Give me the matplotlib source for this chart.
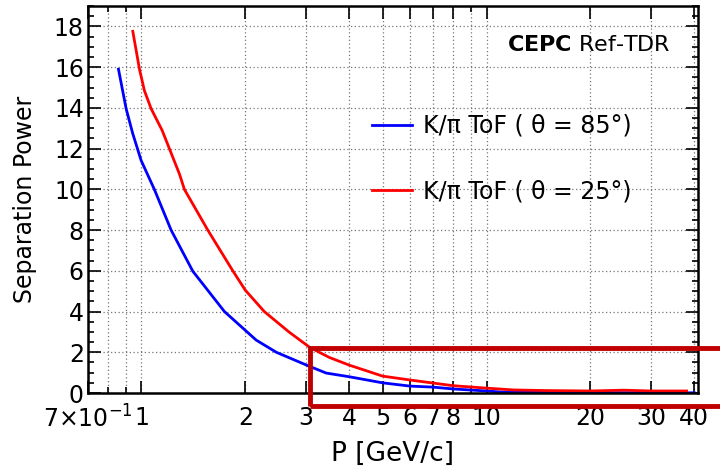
import matplotlib
matplotlib.use("Agg")
import matplotlib.pyplot as plt
from matplotlib.ticker import FixedLocator, FixedFormatter, MultipleLocator
from matplotlib.patches import Rectangle

plt.rcParams['font.family'] = ['DejaVu Sans']

# theta = 85 deg
blue_p = [0.858, 0.903, 0.944, 0.998, 1.09, 1.219, 1.409, 1.74, 2.15, 2.46, 3.01, 3.43, 4.0, 5.0, 6.0, 7.0, 8.0, 10.0, 11.0, 15.0, 20.0, 30.0, 40.0]
blue_s = [15.9, 13.96, 12.73, 11.42, 10.0, 8.0, 5.98, 4.0, 2.6, 2.0, 1.37, 0.98, 0.8, 0.5, 0.34, 0.29, 0.2, 0.1, 0.05, 0.03, 0.02, 0.01, 0.01]

# theta = 25 deg
red_p = [0.944, 0.987, 1.02, 1.067, 1.148, 1.205, 1.289, 1.332, 1.557, 1.84, 2.0, 2.27, 2.68, 3.07, 3.5, 4.0, 5.0, 6.0, 7.0, 8.0, 10.0, 12.0, 15.0, 20.0, 25.0, 30.0, 38.0]
red_s = [17.76, 15.9, 14.85, 13.96, 12.9, 12.0, 10.75, 10.0, 8.0, 6.0, 5.05, 4.0, 2.99, 2.25, 1.75, 1.37, 0.83, 0.64, 0.49, 0.36, 0.24, 0.15, 0.12, 0.1, 0.14, 0.1, 0.1]

xmajor = [0.7, 1, 2, 3, 4, 5, 6, 7, 8, 10, 20, 30, 40]
xlabels = [r'7$\times$10$^{-1}$', '1', '2', '3', '4', '5', '6', '7', '8', '10', '20', '30', '40']
xminor = [0.8, 0.9, 9]

fig = plt.figure(figsize=(7.2, 4.69), dpi=100)
ax = fig.add_axes([0.1222, 0.162, 0.8472, 0.825])

ax.plot(blue_p, blue_s, color='#0000ff', lw=2, label='K/π ToF ( θ = 85°)')
ax.plot(red_p, red_s, color='#ff0000', lw=2, label='K/π ToF ( θ = 25°)')

ax.set_xscale('log')
ax.set_xlim(0.7, 41)
ax.set_ylim(0, 19)
ax.xaxis.set_major_locator(FixedLocator(xmajor))
ax.xaxis.set_major_formatter(FixedFormatter(xlabels))
ax.xaxis.set_minor_locator(FixedLocator(xminor))
ax.xaxis.set_minor_formatter(FixedFormatter([''] * len(xminor)))
ax.yaxis.set_major_locator(MultipleLocator(2))
ax.yaxis.set_minor_locator(MultipleLocator(0.5))

ax.grid(True, which='both', axis='x', color='#777777', linestyle=(0, (1, 2)), lw=0.9)
ax.grid(True, which='major', axis='y', color='#777777', linestyle=(0, (1, 2)), lw=0.9)

ax.tick_params(which='both', direction='in', top=True, right=True, labelsize=17)
ax.tick_params(axis='x', pad=9)
ax.tick_params(axis='y', pad=3)
ax.tick_params(which='major', length=9, width=1.2)
ax.tick_params(which='minor', length=4.5, width=1.2)
for s in ax.spines.values():
    s.set_linewidth(1.8)

ax.set_xlabel('P [GeV/c]', fontsize=19, labelpad=6)
ax.set_ylabel('Separation Power', fontsize=17, labelpad=12)

ax.legend(loc='upper left', bbox_to_anchor=(0.5167, 0.757), bbox_transform=fig.transFigure,
          frameon=False, fontsize=17, borderpad=0, borderaxespad=0,
          handlelength=1.7, handletextpad=0.47, labelspacing=1.76)

ax.text(0.955, 0.9, r'$\mathbf{CEPC}$ Ref-TDR', transform=ax.transAxes, ha='right', va='center', fontsize=16)

# highlight box
fig.patches.append(Rectangle((0.4306, 0.1343), 0.62, 0.1237, transform=fig.transFigure,
                             fill=False, edgecolor='#c00000', lw=3.5, clip_on=False))

fig.savefig('out.png', dpi=100)
